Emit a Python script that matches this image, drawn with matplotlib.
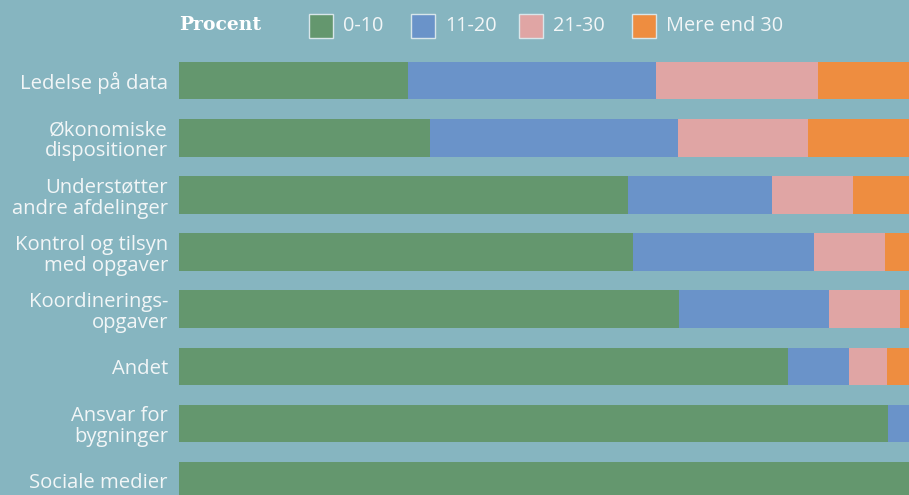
import numpy as np
import matplotlib.pyplot as plt
from matplotlib.patches import Rectangle

# Data (procent af svar)
kategorier = ["Ledelse på data", "Økonomiske\ndispositioner", "Understøtter\nandre afdelinger",
              "Kontrol og tilsyn\nmed opgaver", "Koordinerings-\nopgaver", "Andet",
              "Ansvar for\nbygninger", "Sociale medier"]
serier = ["0-10", "11-20", "21-30", "Mere end 30"]
v_0_10 = [31.4, 34.4, 61.5, 62.2, 68.5, 83.4, 97.1, 100.0]
v_11_20 = [34.0, 34.0, 19.7, 24.8, 20.5, 8.4, 2.9, 0.0]
v_21_30 = [22.2, 17.7, 11.1, 9.7, 9.7, 5.2, 0.0, 0.0]
v_over_30 = [12.4, 13.9, 7.7, 3.3, 1.3, 3.0, 0.0, 0.0]

farver = ["#64976e", "#6a93c9", "#e0a5a4", "#ee8d40"]
bg = "#86b5c0"
tekst = "#f2f6f7"
skrift = "Open Sans"

W, H = 909, 495
fig = plt.figure(figsize=(W / 100, H / 100), dpi=100, facecolor=bg)
# akser i pixel-koordinater
x0, x1 = 179, 909
y_top, y_bot = 52, 495
ax = fig.add_axes([x0 / W, 1 - y_bot / H, (x1 - x0) / W, (y_bot - y_top) / H])
ax.set_facecolor(bg)

y = np.arange(len(kategorier))
left = np.zeros(len(kategorier))
for vals, col in zip([v_0_10, v_11_20, v_21_30, v_over_30], farver):
    vals = np.array(vals)
    ax.barh(y, vals, left=left, height=0.66, color=col, linewidth=0)
    left += vals

ax.set_xlim(0, 100)
ax.set_ylim(7.25, -0.5)
ax.set_yticks(y)
ax.set_yticklabels(kategorier, fontsize=14.6, color=tekst, fontfamily=skrift,
                   linespacing=1.08)
ax.tick_params(axis="y", length=0, pad=8)
ax.set_xticks([])
for s in ax.spines.values():
    s.set_visible(False)

# legende
fig.text(179 / W, 1 - 25 / H, "Procent", fontsize=13.5, fontweight="bold",
         fontfamily="DejaVu Serif", color="white", va="center", ha="left")
leg_x = [309, 411, 519, 632]
for lx, navn, col in zip(leg_x, serier, farver):
    fig.patches.append(Rectangle((lx / W, 1 - 38 / H), 24 / W, 24 / H,
                                 transform=fig.transFigure, facecolor=col,
                                 edgecolor="#d8e6ea", linewidth=1))
    fig.text((lx + 34) / W, 1 - 26 / H, navn, fontsize=14.3, fontfamily=skrift,
             color=tekst, va="center", ha="left")

fig.savefig("out.png", dpi=100, facecolor=bg)
